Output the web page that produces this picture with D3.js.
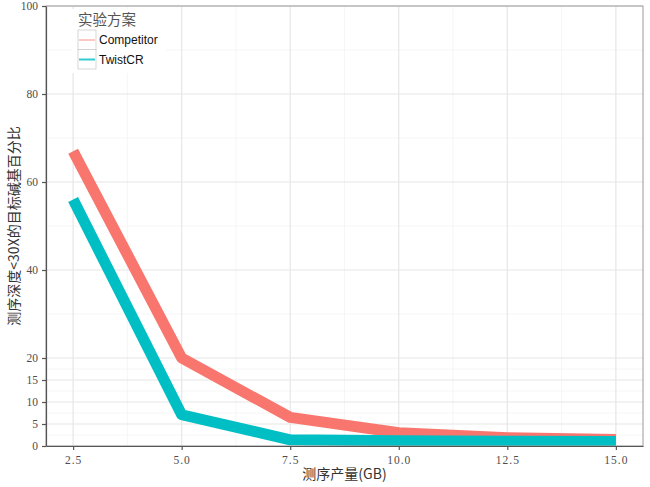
<!DOCTYPE html>
<html><head><meta charset="utf-8">
<script src="https://cdn.jsdelivr.net/npm/d3@7"></script>
<style>body{margin:0;background:#fff}svg{display:block}</style>
</head><body><svg id="c" width="650" height="487"></svg>
<script>
const xValues = [2.5, 5.0, 7.5, 10.0, 12.5, 15.0];
const seriesNames = ["Competitor", "TwistCR"];
const competitor = [67, 20, 6.5, 3.0, 1.9, 1.5];
const twistcr = [56, 7.1, 1.4, 1.2, 1.1, 1.0];
const xTicks = [2.5, 5.0, 7.5, 10.0, 12.5, 15.0];
const yTicks = [0, 5, 10, 15, 20, 40, 60, 80, 100];
const xMinor = [3.75, 6.25, 8.75, 11.25, 13.75];
const yMinor = [2.5, 7.5, 12.5, 17.5, 30, 50, 70, 90];
const colors = ["#F8766D", "#00BFC4"];
const legendTitle = "实验方案";
const xTitle = "测序产量(GB)";
const yTitle = "测序深度<30X的目标碱基百分比";

const svg = d3.select("#c");
const L = 46, R = 643, T = 6, B = 446;
const x = d3.scaleLinear().domain([1.875, 15.625]).range([L, R]);
const y = d3.scaleLinear().domain([0, 100]).range([B, T]);
const tickFont = "'Liberation Serif','DejaVu Serif',serif";

// grid
const g = svg.append("g");
g.selectAll(".mx").data(xMinor).join("line").attr("x1", d => x(d)).attr("x2", d => x(d)).attr("y1", T).attr("y2", B).attr("stroke", "#f4f4f4").attr("stroke-width", 0.8);
g.selectAll(".my").data(yMinor).join("line").attr("x1", L).attr("x2", R).attr("y1", d => y(d)).attr("y2", d => y(d)).attr("stroke", "#f4f4f4").attr("stroke-width", 0.8);
g.selectAll(".Mx").data(xTicks).join("line").attr("x1", d => x(d)).attr("x2", d => x(d)).attr("y1", T).attr("y2", B).attr("stroke", "#e6e6e6").attr("stroke-width", 1.2);
g.selectAll(".My").data(yTicks).join("line").attr("x1", L).attr("x2", R).attr("y1", d => y(d)).attr("y2", d => y(d)).attr("stroke", "#e6e6e6").attr("stroke-width", 1.2);

// lines
const data = [competitor, twistcr];
const line = d3.line().x((d, i) => x(xValues[i])).y(d => y(d));
svg.selectAll(".series").data(data).join("path")
  .attr("d", d => line(d)).attr("fill", "none")
  .attr("stroke", (d, i) => colors[i]).attr("stroke-width", 11)
  .attr("stroke-linejoin", "round").attr("stroke-linecap", "butt");

// panel border
svg.append("rect").attr("x", L).attr("y", T).attr("width", R - L).attr("height", B - T)
  .attr("fill", "none").attr("stroke", "#9a9a9a").attr("stroke-width", 1);

// axes
const xAxis = svg.append("g").attr("transform", `translate(0,${B})`)
  .call(d3.axisBottom(x).tickValues(xTicks).tickFormat(d3.format(".1f")).tickSizeInner(4).tickSizeOuter(0).tickPadding(6));
const yAxis = svg.append("g").attr("transform", `translate(${L},0)`)
  .call(d3.axisLeft(y).tickValues(yTicks).tickFormat(d3.format("d")).tickSizeInner(4).tickSizeOuter(0).tickPadding(4));
[xAxis, yAxis].forEach(a => {
  a.select(".domain").attr("stroke", "#555").attr("stroke-width", 1.2);
  a.selectAll(".tick line").attr("stroke", "#555").attr("stroke-width", 1.2);
  a.selectAll("text").attr("fill", "#4d4d4d").style("font-family", tickFont).style("font-size", "11.5px");
});
xAxis.selectAll("text").attr("letter-spacing", "1px");

// axis titles
svg.append("text").attr("x", (L + R) / 2).attr("y", 479).attr("text-anchor", "middle")
  .style("font-family", "'Noto Sans CJK SC',sans-serif").style("font-size", "14px").attr("fill", "#333").text(xTitle);
svg.append("text").attr("transform", `translate(19,${(T + B) / 2}) rotate(-90)`).attr("text-anchor", "middle")
  .style("font-family", "'Noto Sans CJK SC',sans-serif").style("font-size", "14px").attr("fill", "#333").text(yTitle);

// legend
const lg = svg.append("g");
lg.append("rect").attr("x", 72).attr("y", 9).attr("width", 94).attr("height", 64).attr("fill", "#fff");
lg.append("text").attr("x", 78).attr("y", 25).style("font-family", "'Noto Sans CJK SC',sans-serif")
  .style("font-size", "14.5px").attr("fill", "#555").text(legendTitle);
seriesNames.forEach((n, i) => {
  const ky = 30 + i * 19.5;
  lg.append("rect").attr("x", 78).attr("y", ky).attr("width", 18).attr("height", 19.5)
    .attr("fill", "#fff").attr("stroke", "#ccc").attr("stroke-width", 0.8);
  lg.append("line").attr("x1", 79).attr("x2", 95).attr("y1", ky + 10).attr("y2", ky + 10)
    .attr("stroke", colors[i]).attr("stroke-width", i === 0 ? 1 : 2).attr("opacity", 0.8);
  lg.append("text").attr("x", 99).attr("y", ky + 14).style("font-family", "'Liberation Sans',Arial,sans-serif")
    .style("font-size", "12px").attr("fill", "#111").text(n);
});
</script></body></html>
